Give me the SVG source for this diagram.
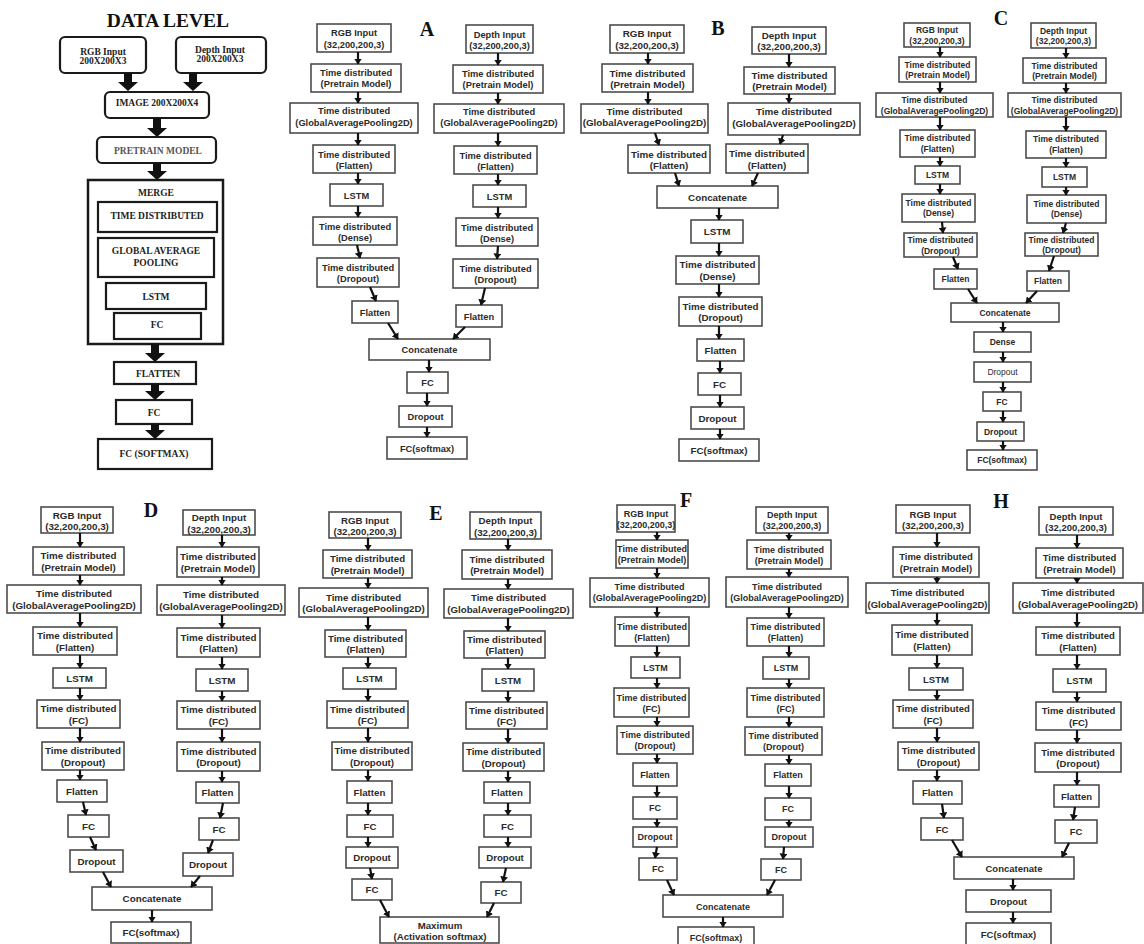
<svg xmlns="http://www.w3.org/2000/svg" width="1144" height="944" viewBox="0 0 1144 944">
<style>
.n rect{fill:#fff;stroke:#4d4d4d;stroke-width:1.6}
.n text{font-family:"Liberation Sans",Arial,sans-serif;font-weight:bold;fill:#2b2b2b;text-anchor:middle}
.lt text{font-weight:normal}
#pA text{font-size:9.3px}
#pB text{font-size:9.8px}
#pC text{font-size:8.5px}
#pD text{font-size:9.8px}
#pE text{font-size:9.7px}
#pF text{font-size:9px}
#pH text{font-size:9.5px}
.d rect{fill:#fff;stroke:#1a1a1a;stroke-width:2.2}
.d text{font-family:"Liberation Serif","Times New Roman",serif;font-weight:bold;font-size:9.5px;fill:#222;text-anchor:middle}
.lbl{font-family:"Liberation Serif","Times New Roman",serif;font-weight:bold;font-size:20px;fill:#111;text-anchor:middle}
.c path{stroke:#111;stroke-width:2.2;fill:none;marker-end:url(#ah)}
.ba{fill:#111}
</style>
<defs>
<marker id="ah" viewBox="0 0 6 8" markerWidth="6" markerHeight="8" refX="5.5" refY="4" orient="auto" markerUnits="userSpaceOnUse"><path d="M0,0 L6,4 L0,8 z" fill="#111"/></marker>
</defs>
<rect width="1144" height="944" fill="#fff"/>

<!-- DATA LEVEL -->
<g id="dataLevel">
<text class="lbl" x="168" y="27" style="font-size:19.5px">DATA LEVEL</text>
<g id="dl-rgb" class="d"><rect x="60" y="37" width="86" height="36" rx="5"/><text><tspan x="103" y="54.5">RGB Input</tspan><tspan x="103" y="63.5">200X200X3</tspan></text></g>
<g id="dl-depth" class="d"><rect x="176" y="37" width="90" height="36" rx="5"/><text><tspan x="220" y="53">Depth Input</tspan><tspan x="220" y="62">200X200X3</tspan></text></g>
<g id="dl-image" class="d"><rect x="105" y="92" width="104" height="26" rx="5"/><text x="157" y="106">IMAGE 200X200X4</text></g>
<g id="dl-pretrain" class="d"><rect x="97" y="137" width="119" height="26" rx="5"/><text x="158" y="154" style="fill:#555">PRETRAIN MODEL</text></g>
<g id="dl-merge" class="d"><rect x="88" y="180" width="135" height="164" style="stroke-width:2.5"/><text x="156" y="196">MERGE</text></g>
<g id="dl-td" class="d"><rect x="98" y="202" width="119" height="30"/><text x="157" y="219">TIME DISTRIBUTED</text></g>
<g id="dl-gap" class="d"><rect x="98" y="238" width="116" height="39"/><text><tspan x="156" y="254">GLOBAL AVERAGE</tspan><tspan x="156" y="266">POOLING</tspan></text></g>
<g id="dl-lstm" class="d"><rect x="106" y="283" width="100" height="26"/><text x="156" y="300">LSTM</text></g>
<g id="dl-fc1" class="d"><rect x="114" y="313" width="87" height="26"/><text x="157" y="328">FC</text></g>
<g id="dl-flatten" class="d"><rect x="114" y="362" width="82" height="22"/><text x="158" y="377">FLATTEN</text></g>
<g id="dl-fc2" class="d"><rect x="116" y="400" width="76" height="24"/><text x="154" y="416">FC</text></g>
<g id="dl-fcs" class="d"><rect x="98" y="439" width="114" height="30"/><text x="154" y="457">FC (SOFTMAX)</text></g>
</g>

<!-- Panel labels -->
<text class="lbl" x="427" y="36">A</text>
<text class="lbl" x="718" y="35">B</text>
<text class="lbl" x="1001" y="25">C</text>
<text class="lbl" x="151" y="517">D</text>
<text class="lbl" x="436" y="520">E</text>
<text class="lbl" x="686" y="507">F</text>
<text class="lbl" x="1001" y="508">H</text>

<!-- PANEL A -->
<g id="pA">
<g id="A-L1" class="n"><rect x="317" y="24" width="74" height="28"/><text><tspan x="354" y="36">RGB Input</tspan><tspan x="354" y="47.5">(32,200,200,3)</tspan></text></g>
<g id="A-L2" class="n"><rect x="311" y="64" width="90" height="28"/><text><tspan x="356" y="76">Time distributed</tspan><tspan x="356" y="87">(Pretrain Model)</tspan></text></g>
<g id="A-L3" class="n"><rect x="290" y="103" width="128" height="30"/><text><tspan x="354" y="114">Time distributed</tspan><tspan x="354" y="125.5">(GlobalAveragePooling2D)</tspan></text></g>
<g id="A-L4" class="n"><rect x="313" y="145" width="82" height="28"/><text><tspan x="354" y="157.5">Time distributed</tspan><tspan x="354" y="168.5">(Flatten)</tspan></text></g>
<g id="A-L5" class="n"><rect x="330" y="184" width="53" height="22"/><text x="356.5" y="198.5">LSTM</text></g>
<g id="A-L6" class="n"><rect x="313" y="217" width="84" height="28"/><text><tspan x="355" y="229.5">Time distributed</tspan><tspan x="355" y="240.5">(Dense)</tspan></text></g>
<g id="A-L7" class="n"><rect x="317" y="258" width="82" height="29"/><text><tspan x="358" y="270.5">Time distributed</tspan><tspan x="358" y="281.5">(Dropout)</tspan></text></g>
<g id="A-L8" class="n"><rect x="352" y="301" width="46" height="22"/><text x="375" y="315.5">Flatten</text></g>
<g id="A-R1" class="n"><rect x="466" y="25" width="67" height="28"/><text><tspan x="499.5" y="37.5">Depth Input</tspan><tspan x="499.5" y="48.5">(32,200,200,3)</tspan></text></g>
<g id="A-R2" class="n"><rect x="453" y="65" width="90" height="28"/><text><tspan x="498" y="77">Time distributed</tspan><tspan x="498" y="88">(Pretrain Model)</tspan></text></g>
<g id="A-R3" class="n"><rect x="434" y="104" width="130" height="29"/><text><tspan x="499" y="114.5">Time distributed</tspan><tspan x="499" y="126">(GlobalAveragePooling2D)</tspan></text></g>
<g id="A-R4" class="n"><rect x="454" y="146" width="83" height="28"/><text><tspan x="495.5" y="158.5">Time distributed</tspan><tspan x="495.5" y="169.5">(Flatten)</tspan></text></g>
<g id="A-R5" class="n"><rect x="473" y="185" width="53" height="22"/><text x="499.5" y="199.5">LSTM</text></g>
<g id="A-R6" class="n"><rect x="456" y="218" width="82" height="28"/><text><tspan x="497" y="230.5">Time distributed</tspan><tspan x="497" y="241.5">(Dense)</tspan></text></g>
<g id="A-R7" class="n"><rect x="453" y="259" width="85" height="29"/><text><tspan x="495.5" y="271.5">Time distributed</tspan><tspan x="495.5" y="282.5">(Dropout)</tspan></text></g>
<g id="A-R8" class="n"><rect x="456" y="305" width="46" height="22"/><text x="479" y="319.5">Flatten</text></g>
<g id="A-C1" class="n"><rect x="369" y="339" width="121" height="21"/><text x="429.5" y="353">Concatenate</text></g>
<g id="A-C2" class="n"><rect x="407" y="372" width="41" height="21"/><text x="427.5" y="386">FC</text></g>
<g id="A-C3" class="n"><rect x="399" y="406" width="53" height="21"/><text x="425.5" y="420">Dropout</text></g>
<g id="A-C4" class="n"><rect x="387" y="437" width="80" height="22"/><text x="427" y="451.5">FC(softmax)</text></g>
</g>

<!-- PANEL B -->
<g id="pB">
<g id="B-L1" class="n"><rect x="610" y="25" width="74" height="28"/><text><tspan x="647" y="37">RGB Input</tspan><tspan x="647" y="48.5">(32,200,200,3)</tspan></text></g>
<g id="B-L2" class="n"><rect x="602" y="64" width="91" height="28"/><text><tspan x="647.5" y="76.5">Time distributed</tspan><tspan x="647.5" y="88">(Pretrain Model)</tspan></text></g>
<g id="B-L3" class="n"><rect x="581" y="104" width="127" height="29"/><text><tspan x="644.5" y="114.5">Time distributed</tspan><tspan x="644.5" y="126">(GlobalAveragePooling2D)</tspan></text></g>
<g id="B-L4" class="n"><rect x="628" y="145" width="82" height="28"/><text><tspan x="669" y="157.5">Time distributed</tspan><tspan x="669" y="169">(Flatten)</tspan></text></g>
<g id="B-R1" class="n"><rect x="752" y="27" width="74" height="27"/><text><tspan x="789" y="39">Depth Input</tspan><tspan x="789" y="50">(32,200,200,3)</tspan></text></g>
<g id="B-R2" class="n"><rect x="744" y="67" width="91" height="27"/><text><tspan x="789.5" y="78.5">Time distributed</tspan><tspan x="789.5" y="90">(Pretrain Model)</tspan></text></g>
<g id="B-R3" class="n"><rect x="728" y="103" width="132" height="32"/><text><tspan x="794" y="115">Time distributed</tspan><tspan x="794" y="126.5">(GlobalAveragePooling2D)</tspan></text></g>
<g id="B-R4" class="n"><rect x="726" y="144" width="82" height="29"/><text><tspan x="767" y="157">Time distributed</tspan><tspan x="767" y="168.5">(Flatten)</tspan></text></g>
<g id="B-C1" class="n"><rect x="657" y="186" width="121" height="22"/><text x="717.5" y="200.5">Concatenate</text></g>
<g id="B-C2" class="n"><rect x="691" y="220" width="52" height="23"/><text x="717" y="235">LSTM</text></g>
<g id="B-C3" class="n"><rect x="676" y="256" width="83" height="28"/><text><tspan x="717.5" y="268">Time distributed</tspan><tspan x="717.5" y="279.5">(Dense)</tspan></text></g>
<g id="B-C4" class="n"><rect x="679" y="297" width="83" height="29"/><text><tspan x="720.5" y="309.5">Time distributed</tspan><tspan x="720.5" y="321">(Dropout)</tspan></text></g>
<g id="B-C5" class="n"><rect x="697" y="339" width="47" height="22"/><text x="720.5" y="353.5">Flatten</text></g>
<g id="B-C6" class="n"><rect x="698" y="373" width="43" height="22"/><text x="719.5" y="387.5">FC</text></g>
<g id="B-C7" class="n"><rect x="691" y="407" width="53" height="22"/><text x="717.5" y="421.5">Dropout</text></g>
<g id="B-C8" class="n"><rect x="679" y="439" width="80" height="22"/><text x="719" y="453.5">FC(softmax)</text></g>
</g>

<!-- PANEL C -->
<g id="pC">
<g id="C-L1" class="n"><rect x="904" y="23" width="66" height="24"/><text><tspan x="937" y="33">RGB Input</tspan><tspan x="937" y="43.5">(32,200,200,3)</tspan></text></g>
<g id="C-L2" class="n"><rect x="899" y="57" width="77" height="25"/><text><tspan x="937.5" y="67.5">Time distributed</tspan><tspan x="937.5" y="78">(Pretrain Model)</tspan></text></g>
<g id="C-L3" class="n"><rect x="876" y="93" width="117" height="24"/><text><tspan x="934.5" y="103">Time distributed</tspan><tspan x="934.5" y="113.5">(GlobalAveragePooling2D)</tspan></text></g>
<g id="C-L4" class="n"><rect x="900" y="130" width="75" height="27"/><text><tspan x="937.5" y="141">Time distributed</tspan><tspan x="937.5" y="151.5">(Flatten)</tspan></text></g>
<g id="C-L5" class="n"><rect x="915" y="166" width="45" height="18"/><text x="937.5" y="178">LSTM</text></g>
<g id="C-L6" class="n"><rect x="902" y="194" width="73" height="28"/><text><tspan x="938.5" y="205.5">Time distributed</tspan><tspan x="938.5" y="216">(Dense)</tspan></text></g>
<g id="C-L7" class="n"><rect x="904" y="233" width="73" height="24"/><text><tspan x="940.5" y="243">Time distributed</tspan><tspan x="940.5" y="253.5">(Dropout)</tspan></text></g>
<g id="C-L8" class="n"><rect x="934" y="269" width="43" height="20"/><text x="955.5" y="282">Flatten</text></g>
<g id="C-R1" class="n"><rect x="1031" y="23" width="65" height="25"/><text><tspan x="1063.5" y="33.5">Depth Input</tspan><tspan x="1063.5" y="44">(32,200,200,3)</tspan></text></g>
<g id="C-R2" class="n"><rect x="1023" y="58" width="83" height="25"/><text><tspan x="1064.5" y="68.5">Time distributed</tspan><tspan x="1064.5" y="79">(Pretrain Model)</tspan></text></g>
<g id="C-R3" class="n"><rect x="1008" y="93" width="113" height="24"/><text><tspan x="1064.5" y="103">Time distributed</tspan><tspan x="1064.5" y="113.5">(GlobalAveragePooling2D)</tspan></text></g>
<g id="C-R4" class="n"><rect x="1026" y="131" width="80" height="27"/><text><tspan x="1066" y="142">Time distributed</tspan><tspan x="1066" y="152.5">(Flatten)</tspan></text></g>
<g id="C-R5" class="n"><rect x="1042" y="167" width="45" height="20"/><text x="1064.5" y="180">LSTM</text></g>
<g id="C-R6" class="n"><rect x="1027" y="195" width="79" height="28"/><text><tspan x="1066.5" y="206.5">Time distributed</tspan><tspan x="1066.5" y="217">(Dense)</tspan></text></g>
<g id="C-R7" class="n"><rect x="1025" y="233" width="73" height="23"/><text><tspan x="1061.5" y="242.5">Time distributed</tspan><tspan x="1061.5" y="253">(Dropout)</tspan></text></g>
<g id="C-R8" class="n"><rect x="1027" y="271" width="42" height="20"/><text x="1048" y="284">Flatten</text></g>
<g id="C-C1" class="n"><rect x="951" y="303" width="108" height="19"/><text x="1005" y="315.5">Concatenate</text></g>
<g id="C-C2" class="n"><rect x="974" y="332" width="57" height="20"/><text x="1002.5" y="345">Dense</text></g>
<g id="C-C3" class="n lt"><rect x="974" y="362" width="57" height="20"/><text x="1002.5" y="375">Dropout</text></g>
<g id="C-C4" class="n"><rect x="983" y="392" width="38" height="19"/><text x="1002" y="404.5">FC</text></g>
<g id="C-C5" class="n"><rect x="977" y="422" width="47" height="19"/><text x="1000.5" y="434.5">Dropout</text></g>
<g id="C-C6" class="n"><rect x="967" y="450" width="70" height="20"/><text x="1002" y="463">FC(softmax)</text></g>
</g>

<!-- PANEL D -->
<g id="pD">
<g id="D-L1" class="n"><rect x="41" y="507" width="72" height="26"/><text><tspan x="77" y="518.5">RGB Input</tspan><tspan x="77" y="530">(32,200,200,3)</tspan></text></g>
<g id="D-L2" class="n"><rect x="33" y="547" width="91" height="28"/><text><tspan x="78.5" y="559">Time distributed</tspan><tspan x="78.5" y="570.5">(Pretrain Model)</tspan></text></g>
<g id="D-L3" class="n"><rect x="7" y="585" width="134" height="28"/><text><tspan x="74" y="597">Time distributed</tspan><tspan x="74" y="608.5">(GlobalAveragePooling2D)</tspan></text></g>
<g id="D-L4" class="n"><rect x="33" y="627" width="84" height="28"/><text><tspan x="75" y="639">Time distributed</tspan><tspan x="75" y="650.5">(Flatten)</tspan></text></g>
<g id="D-L5" class="n"><rect x="53" y="668" width="53" height="20"/><text x="79.5" y="681.5">LSTM</text></g>
<g id="D-L6" class="n"><rect x="37" y="700" width="83" height="28"/><text><tspan x="78.5" y="712">Time distributed</tspan><tspan x="78.5" y="723.5">(FC)</tspan></text></g>
<g id="D-L7" class="n"><rect x="42" y="742" width="82" height="28"/><text><tspan x="83" y="754">Time distributed</tspan><tspan x="83" y="765.5">(Dropout)</tspan></text></g>
<g id="D-L8" class="n"><rect x="57" y="780" width="50" height="22"/><text x="82" y="794.5">Flatten</text></g>
<g id="D-L9" class="n"><rect x="68" y="815" width="41" height="22"/><text x="88.5" y="829.5">FC</text></g>
<g id="D-L10" class="n"><rect x="70" y="850" width="53" height="22"/><text x="96.5" y="864.5">Dropout</text></g>
<g id="D-R1" class="n"><rect x="183" y="510" width="72" height="25"/><text><tspan x="219" y="521">Depth Input</tspan><tspan x="219" y="532.5">(32,200,200,3)</tspan></text></g>
<g id="D-R2" class="n"><rect x="177" y="547" width="82" height="30"/><text><tspan x="218" y="560">Time distributed</tspan><tspan x="218" y="571.5">(Pretrain Model)</tspan></text></g>
<g id="D-R3" class="n"><rect x="157" y="585" width="128" height="30"/><text><tspan x="221" y="598">Time distributed</tspan><tspan x="221" y="609.5">(GlobalAveragePooling2D)</tspan></text></g>
<g id="D-R4" class="n"><rect x="177" y="628" width="83" height="29"/><text><tspan x="218.5" y="640.5">Time distributed</tspan><tspan x="218.5" y="652">(Flatten)</tspan></text></g>
<g id="D-R5" class="n"><rect x="196" y="669" width="52" height="22"/><text x="222" y="683.5">LSTM</text></g>
<g id="D-R6" class="n"><rect x="177" y="701" width="83" height="28"/><text><tspan x="218.5" y="713">Time distributed</tspan><tspan x="218.5" y="724.5">(FC)</tspan></text></g>
<g id="D-R7" class="n"><rect x="177" y="742" width="83" height="29"/><text><tspan x="218.5" y="754.5">Time distributed</tspan><tspan x="218.5" y="766">(Dropout)</tspan></text></g>
<g id="D-R8" class="n"><rect x="196" y="782" width="43" height="21"/><text x="217.5" y="796">Flatten</text></g>
<g id="D-R9" class="n"><rect x="199" y="818" width="40" height="22"/><text x="219" y="832.5">FC</text></g>
<g id="D-R10" class="n"><rect x="183" y="853" width="50" height="23"/><text x="208" y="868">Dropout</text></g>
<g id="D-C1" class="n"><rect x="92" y="887" width="120" height="23"/><text x="152" y="902">Concatenate</text></g>
<g id="D-C2" class="n"><rect x="111" y="922" width="80" height="21"/><text x="151" y="936">FC(softmax)</text></g>
</g>

<!-- PANEL E -->
<g id="pE">
<g id="E-L1" class="n"><rect x="329" y="512" width="72" height="26"/><text><tspan x="365" y="523.5">RGB Input</tspan><tspan x="365" y="535">(32,200,200,3)</tspan></text></g>
<g id="E-L2" class="n"><rect x="323" y="550" width="89" height="28"/><text><tspan x="367.5" y="562">Time distributed</tspan><tspan x="367.5" y="573.5">(Pretrain Model)</tspan></text></g>
<g id="E-L3" class="n"><rect x="299" y="588" width="129" height="29"/><text><tspan x="363.5" y="600.5">Time distributed</tspan><tspan x="363.5" y="612">(GlobalAveragePooling2D)</tspan></text></g>
<g id="E-L4" class="n"><rect x="325" y="630" width="81" height="27"/><text><tspan x="365.5" y="641.5">Time distributed</tspan><tspan x="365.5" y="653">(Flatten)</tspan></text></g>
<g id="E-L5" class="n"><rect x="343" y="668" width="53" height="21"/><text x="369.5" y="682">LSTM</text></g>
<g id="E-L6" class="n"><rect x="327" y="701" width="81" height="27"/><text><tspan x="367.5" y="712.5">Time distributed</tspan><tspan x="367.5" y="724">(FC)</tspan></text></g>
<g id="E-L7" class="n"><rect x="332" y="742" width="80" height="28"/><text><tspan x="372" y="754">Time distributed</tspan><tspan x="372" y="765.5">(Dropout)</tspan></text></g>
<g id="E-L8" class="n"><rect x="347" y="781" width="45" height="22"/><text x="369.5" y="795.5">Flatten</text></g>
<g id="E-L9" class="n"><rect x="347" y="815" width="46" height="22"/><text x="370" y="829.5">FC</text></g>
<g id="E-L10" class="n"><rect x="346" y="847" width="52" height="21"/><text x="372" y="861">Dropout</text></g>
<g id="E-L11" class="n"><rect x="352" y="879" width="40" height="21"/><text x="372" y="893">FC</text></g>
<g id="E-R1" class="n"><rect x="470" y="512" width="71" height="27"/><text><tspan x="505.5" y="524">Depth Input</tspan><tspan x="505.5" y="535.5">(32,200,200,3)</tspan></text></g>
<g id="E-R2" class="n"><rect x="462" y="550" width="90" height="29"/><text><tspan x="507" y="562.5">Time distributed</tspan><tspan x="507" y="574">(Pretrain Model)</tspan></text></g>
<g id="E-R3" class="n"><rect x="444" y="589" width="129" height="29"/><text><tspan x="508.5" y="601">Time distributed</tspan><tspan x="508.5" y="612.5">(GlobalAveragePooling2D)</tspan></text></g>
<g id="E-R4" class="n"><rect x="464" y="631" width="81" height="27"/><text><tspan x="504.5" y="642.5">Time distributed</tspan><tspan x="504.5" y="654">(Flatten)</tspan></text></g>
<g id="E-R5" class="n"><rect x="482" y="669" width="52" height="22"/><text x="508" y="683.5">LSTM</text></g>
<g id="E-R6" class="n"><rect x="466" y="702" width="81" height="27"/><text><tspan x="506.5" y="713.5">Time distributed</tspan><tspan x="506.5" y="725">(FC)</tspan></text></g>
<g id="E-R7" class="n"><rect x="463" y="743" width="81" height="28"/><text><tspan x="503.5" y="755">Time distributed</tspan><tspan x="503.5" y="766.5">(Dropout)</tspan></text></g>
<g id="E-R8" class="n"><rect x="484" y="782" width="46" height="21"/><text x="507" y="796">Flatten</text></g>
<g id="E-R9" class="n"><rect x="484" y="815" width="47" height="22"/><text x="507.5" y="829.5">FC</text></g>
<g id="E-R10" class="n"><rect x="479" y="847" width="52" height="21"/><text x="505" y="861">Dropout</text></g>
<g id="E-R11" class="n"><rect x="481" y="882" width="40" height="21"/><text x="501" y="896">FC</text></g>
<g id="E-C1" class="n"><rect x="380" y="917" width="119" height="26"/><text><tspan x="440" y="928.5">Maximum</tspan><tspan x="440" y="940">(Activation softmax)</tspan></text></g>
</g>

<!-- PANEL F -->
<g id="pF">
<g id="F-L1" class="n"><rect x="617" y="505" width="58" height="27"/><text><tspan x="646" y="517">RGB Input</tspan><tspan x="646" y="528">(32,200,200,3)</tspan></text></g>
<g id="F-L2" class="n"><rect x="616" y="540" width="72" height="28"/><text><tspan x="652" y="552">Time distributed</tspan><tspan x="652" y="563">(Pretrain Model)</tspan></text></g>
<g id="F-L3" class="n"><rect x="590" y="578" width="119" height="29"/><text><tspan x="649.5" y="590">Time distributed</tspan><tspan x="649.5" y="601">(GlobalAveragePooling2D)</tspan></text></g>
<g id="F-L4" class="n"><rect x="615" y="617" width="74" height="29"/><text><tspan x="652" y="629.5">Time distributed</tspan><tspan x="652" y="640.5">(Flatten)</tspan></text></g>
<g id="F-L5" class="n"><rect x="631" y="657" width="49" height="21"/><text x="655.5" y="670.5">LSTM</text></g>
<g id="F-L6" class="n"><rect x="614" y="688" width="75" height="29"/><text><tspan x="651.5" y="700.5">Time distributed</tspan><tspan x="651.5" y="711.5">(FC)</tspan></text></g>
<g id="F-L7" class="n"><rect x="617" y="726" width="76" height="28"/><text><tspan x="655" y="738">Time distributed</tspan><tspan x="655" y="749">(Dropout)</tspan></text></g>
<g id="F-L8" class="n"><rect x="633" y="763" width="44" height="23"/><text x="655" y="777.5">Flatten</text></g>
<g id="F-L9" class="n"><rect x="633" y="797" width="44" height="22"/><text x="655" y="811">FC</text></g>
<g id="F-L10" class="n"><rect x="633" y="827" width="44" height="20"/><text x="655" y="840">Dropout</text></g>
<g id="F-L11" class="n"><rect x="639" y="858" width="38" height="22"/><text x="658" y="872">FC</text></g>
<g id="F-R1" class="n"><rect x="756" y="507" width="72" height="26"/><text><tspan x="792" y="518">Depth Input</tspan><tspan x="792" y="529">(32,200,200,3)</tspan></text></g>
<g id="F-R2" class="n"><rect x="747" y="540" width="84" height="29"/><text><tspan x="789" y="552.5">Time distributed</tspan><tspan x="789" y="563.5">(Pretrain Model)</tspan></text></g>
<g id="F-R3" class="n"><rect x="726" y="577" width="122" height="30"/><text><tspan x="787" y="590">Time distributed</tspan><tspan x="787" y="601">(GlobalAveragePooling2D)</tspan></text></g>
<g id="F-R4" class="n"><rect x="747" y="618" width="77" height="28"/><text><tspan x="785.5" y="630">Time distributed</tspan><tspan x="785.5" y="641">(Flatten)</tspan></text></g>
<g id="F-R5" class="n"><rect x="763" y="657" width="46" height="22"/><text x="786" y="671">LSTM</text></g>
<g id="F-R6" class="n"><rect x="747" y="688" width="77" height="29"/><text><tspan x="785.5" y="700.5">Time distributed</tspan><tspan x="785.5" y="711.5">(FC)</tspan></text></g>
<g id="F-R7" class="n"><rect x="745" y="727" width="77" height="28"/><text><tspan x="783.5" y="739">Time distributed</tspan><tspan x="783.5" y="750">(Dropout)</tspan></text></g>
<g id="F-R8" class="n"><rect x="765" y="764" width="46" height="22"/><text x="788" y="778">Flatten</text></g>
<g id="F-R9" class="n"><rect x="765" y="798" width="46" height="22"/><text x="788" y="812">FC</text></g>
<g id="F-R10" class="n"><rect x="765" y="827" width="48" height="20"/><text x="789" y="840">Dropout</text></g>
<g id="F-R11" class="n"><rect x="761" y="859" width="40" height="21"/><text x="781" y="873">FC</text></g>
<g id="F-C1" class="n"><rect x="663" y="895" width="120" height="22"/><text x="723" y="909.5">Concatenate</text></g>
<g id="F-C2" class="n"><rect x="678" y="927" width="76" height="22"/><text x="716" y="941">FC(softmax)</text></g>
</g>

<!-- PANEL H -->
<g id="pH">
<g id="H-L1" class="n"><rect x="896" y="505" width="74" height="28"/><text><tspan x="933" y="517.5">RGB Input</tspan><tspan x="933" y="529">(32,200,200,3)</tspan></text></g>
<g id="H-L2" class="n"><rect x="893" y="547" width="86" height="30"/><text><tspan x="936" y="560">Time distributed</tspan><tspan x="936" y="571.5">(Pretrain Model)</tspan></text></g>
<g id="H-L3" class="n"><rect x="866" y="583" width="123" height="30"/><text><tspan x="927.5" y="596">Time distributed</tspan><tspan x="927.5" y="607.5">(GlobalAveragePooling2D)</tspan></text></g>
<g id="H-L4" class="n"><rect x="892" y="625" width="80" height="30"/><text><tspan x="932" y="638">Time distributed</tspan><tspan x="932" y="649.5">(Flatten)</tspan></text></g>
<g id="H-L5" class="n"><rect x="909" y="668" width="54" height="22"/><text x="936" y="682.5">LSTM</text></g>
<g id="H-L6" class="n"><rect x="893" y="700" width="80" height="28"/><text><tspan x="933" y="712">Time distributed</tspan><tspan x="933" y="723.5">(FC)</tspan></text></g>
<g id="H-L7" class="n"><rect x="898" y="742" width="81" height="28"/><text><tspan x="938.5" y="754">Time distributed</tspan><tspan x="938.5" y="765.5">(Dropout)</tspan></text></g>
<g id="H-L8" class="n"><rect x="913" y="781" width="49" height="23"/><text x="937.5" y="796">Flatten</text></g>
<g id="H-L9" class="n"><rect x="921" y="818" width="42" height="22"/><text x="942" y="832.5">FC</text></g>
<g id="H-R1" class="n"><rect x="1039" y="507" width="74" height="28"/><text><tspan x="1076" y="519.5">Depth Input</tspan><tspan x="1076" y="531">(32,200,200,3)</tspan></text></g>
<g id="H-R2" class="n"><rect x="1036" y="548" width="87" height="30"/><text><tspan x="1079.5" y="561">Time distributed</tspan><tspan x="1079.5" y="572.5">(Pretrain Model)</tspan></text></g>
<g id="H-R3" class="n"><rect x="1013" y="583" width="130" height="30"/><text><tspan x="1078" y="596">Time distributed</tspan><tspan x="1078" y="607.5">(GlobalAveragePooling2D)</tspan></text></g>
<g id="H-R4" class="n"><rect x="1036" y="627" width="84" height="28"/><text><tspan x="1078" y="639">Time distributed</tspan><tspan x="1078" y="650.5">(Flatten)</tspan></text></g>
<g id="H-R5" class="n"><rect x="1053" y="669" width="53" height="23"/><text x="1079.5" y="684">LSTM</text></g>
<g id="H-R6" class="n"><rect x="1036" y="702" width="85" height="28"/><text><tspan x="1078.5" y="714">Time distributed</tspan><tspan x="1078.5" y="725.5">(FC)</tspan></text></g>
<g id="H-R7" class="n"><rect x="1035" y="743" width="86" height="29"/><text><tspan x="1078" y="755.5">Time distributed</tspan><tspan x="1078" y="767">(Dropout)</tspan></text></g>
<g id="H-R8" class="n"><rect x="1054" y="785" width="45" height="22"/><text x="1076.5" y="799.5">Flatten</text></g>
<g id="H-R9" class="n"><rect x="1055" y="820" width="42" height="23"/><text x="1076" y="835">FC</text></g>
<g id="H-C1" class="n"><rect x="954" y="857" width="120" height="22"/><text x="1014" y="871.5">Concatenate</text></g>
<g id="H-C2" class="n"><rect x="966" y="890" width="85" height="22"/><text x="1008.5" y="904.5">Dropout</text></g>
<g id="H-C3" class="n"><rect x="966" y="923" width="85" height="22"/><text x="1008.5" y="937.5">FC(softmax)</text></g>
</g>

<!-- CONNECTORS -->
<g id="connectors">
<g id="blockArrows" class="ba">
<polygon points="124,73 132,73 132,82 138,82 128,91 118,82 124,82"/>
<polygon points="189,73 197,73 197,82 203,82 193,91 183,82 189,82"/>
<polygon points="153,118 161,118 161,128 167,128 157,137 147,128 153,128"/>
<polygon points="153,163 161,163 161,171 167,171 157,180 147,171 153,171"/>
<polygon points="151,344 159,344 159,353 165,353 155,362 145,353 151,353"/>
<polygon points="151,384 159,384 159,391 165,391 155,400 145,391 151,391"/>
<polygon points="151,424 159,424 159,430 165,430 155,439 145,430 151,430"/>
</g>
<g class="c">
<!-- A -->
<path d="M358,52 L358,64"/><path d="M358,92 L358,103"/><path d="M358,133 L358,145"/><path d="M358,173 L358,184"/><path d="M358,206 L358,217"/><path d="M357,245 L360,258"/><path d="M370,287 L376,301"/><path d="M388,323 L398,339"/>
<path d="M498,53 L498,65"/><path d="M498,93 L498,104"/><path d="M498,133 L498,146"/><path d="M498,174 L498,185"/><path d="M498,207 L498,218"/><path d="M498,246 L497,259"/><path d="M485,288 L481,305"/><path d="M465,327 L453,339"/>
<path d="M429,360 L429,372"/><path d="M427,393 L427,406"/><path d="M427,427 L427,437"/>
<!-- B -->
<path d="M648,53 L648,64"/><path d="M648,92 L648,104"/><path d="M655,133 L659,145"/><path d="M675,173 L679,186"/>
<path d="M789,54 L789,67"/><path d="M789,94 L789,103"/><path d="M783,135 L780,144"/><path d="M758,173 L752,186"/>
<path d="M719,208 L719,220"/><path d="M719,243 L719,256"/><path d="M719,284 L719,297"/><path d="M719,326 L719,339"/><path d="M720,361 L720,373"/><path d="M720,395 L720,407"/><path d="M720,429 L720,439"/>
<!-- C -->
<path d="M940,47 L940,57"/><path d="M940,82 L940,93"/><path d="M940,117 L940,130"/><path d="M940,157 L940,166"/><path d="M940,184 L940,194"/><path d="M942,222 L943,233"/><path d="M953,257 L958,269"/><path d="M968,289 L977,303"/>
<path d="M1066,48 L1066,58"/><path d="M1066,83 L1066,93"/><path d="M1066,117 L1066,131"/><path d="M1066,158 L1066,167"/><path d="M1066,187 L1066,195"/><path d="M1066,223 L1063,233"/><path d="M1054,256 L1049,271"/><path d="M1037,291 L1026,303"/>
<path d="M1003,322 L1003,332"/><path d="M1003,352 L1003,362"/><path d="M1003,382 L1003,392"/><path d="M1003,411 L1003,422"/><path d="M1003,441 L1003,450"/>
<!-- D -->
<path d="M80,533 L80,547"/><path d="M80,575 L80,585"/><path d="M80,613 L80,627"/><path d="M80,655 L80,668"/><path d="M80,688 L80,700"/><path d="M80,728 L80,742"/><path d="M80,770 L80,780"/><path d="M83,802 L86,815"/><path d="M90,837 L96,850"/><path d="M103,872 L111,887"/>
<path d="M222,535 L222,547"/><path d="M222,577 L222,585"/><path d="M222,615 L222,628"/><path d="M222,657 L222,669"/><path d="M222,691 L222,701"/><path d="M222,729 L222,742"/><path d="M222,771 L222,782"/><path d="M223,803 L220,818"/><path d="M213,840 L208,853"/><path d="M200,876 L191,887"/>
<path d="M152,910 L152,922"/>
<!-- E -->
<path d="M368,538 L368,550"/><path d="M368,578 L368,588"/><path d="M368,617 L368,630"/><path d="M368,657 L368,668"/><path d="M368,689 L368,701"/><path d="M368,728 L368,742"/><path d="M368,770 L368,781"/><path d="M368,803 L368,815"/><path d="M368,837 L368,847"/><path d="M370,868 L372,879"/><path d="M380,900 L389,917"/>
<path d="M508,539 L508,550"/><path d="M508,579 L508,589"/><path d="M508,618 L508,631"/><path d="M508,658 L508,669"/><path d="M508,691 L508,702"/><path d="M508,729 L508,743"/><path d="M508,771 L508,782"/><path d="M508,803 L508,815"/><path d="M508,837 L508,847"/><path d="M506,868 L503,882"/><path d="M494,903 L487,917"/>
<!-- F -->
<path d="M657,532 L657,540"/><path d="M657,568 L657,578"/><path d="M657,607 L657,617"/><path d="M657,646 L657,657"/><path d="M657,678 L657,688"/><path d="M657,717 L657,726"/><path d="M657,754 L657,763"/><path d="M657,786 L657,797"/><path d="M657,819 L657,827"/><path d="M657,847 L655,858"/><path d="M667,880 L674,895"/>
<path d="M789,533 L789,540"/><path d="M789,569 L789,577"/><path d="M789,607 L789,618"/><path d="M789,646 L789,657"/><path d="M789,679 L789,688"/><path d="M789,717 L789,727"/><path d="M789,755 L789,764"/><path d="M789,786 L789,798"/><path d="M789,820 L789,827"/><path d="M784,847 L783,859"/><path d="M775,880 L767,895"/>
<path d="M723,917 L723,927"/>
<!-- H -->
<path d="M937,533 L937,547"/><path d="M937,577 L937,583"/><path d="M937,613 L937,625"/><path d="M937,655 L937,668"/><path d="M937,690 L937,700"/><path d="M937,728 L937,742"/><path d="M937,770 L937,781"/><path d="M942,804 L944,818"/><path d="M952,840 L962,857"/>
<path d="M1077,535 L1077,548"/><path d="M1077,578 L1077,583"/><path d="M1077,613 L1077,627"/><path d="M1077,655 L1077,669"/><path d="M1077,692 L1077,702"/><path d="M1077,730 L1077,743"/><path d="M1077,772 L1077,785"/><path d="M1075,807 L1073,820"/><path d="M1069,843 L1062,857"/>
<path d="M1013,879 L1013,890"/><path d="M1013,912 L1013,923"/>
</g>
</g>
</svg>
